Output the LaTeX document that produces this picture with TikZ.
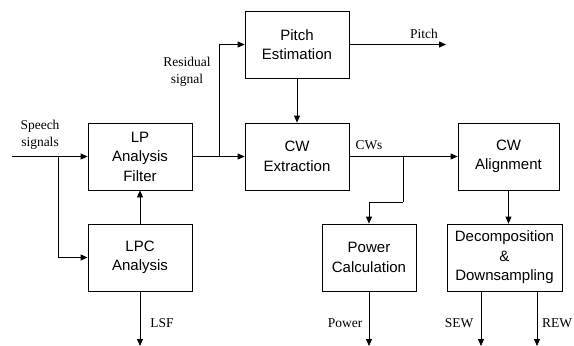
\documentclass[tikz,border=0pt]{standalone}
\usepackage{fontspec}
\setmainfont{Liberation Serif}
\newfontfamily\boxfont{Liberation Sans}
\usetikzlibrary{arrows.meta,positioning}

\tikzset{
  block/.style={draw, line width=0.8pt, minimum width=104pt, minimum height=67pt,
    align=center, inner sep=1pt, font=\boxfont\fontsize{15}{19.5}\selectfont},
  sig/.style={font=\fontsize{13.5}{17}\selectfont, align=center, inner sep=0pt},
  flow/.style={line width=0.8pt, -{Triangle[length=7pt,width=6pt]}},
  wire/.style={line width=0.8pt}
}

\begin{document}
\begin{tikzpicture}[x=1pt,y=-1pt]
  \useasboundingbox (0,0) rectangle (574,346);

  % Draw the blocks
  \node[block] (lpf) at (140,156.5) {LP\\Analysis\\Filter};
  \node[block] (lpc) at (140,257.5) {LPC\\Analysis};
  \node[block] (pitch) at (297,44.5) {Pitch\\Estimation};
  \node[block] (cwe) at (297,156.5) {CW\\Extraction};
  \node[block, minimum width=101pt] (cwa) at (508.5,156.5) {CW\\Alignment};
  \node[block, minimum width=94pt] (pwr) at (369,257.5) {Power\\Calculation};
  \node[block, minimum width=115pt] (dec) at (504.5,257.5) {Decomposition\\\&\\Downsampling};

  % Define the branch points and free ends
  \coordinate (in) at (12,156.5);
  \coordinate (sb) at (58,156.5);
  \coordinate (rb) at (219,156.5);
  \coordinate (pout) at (446,44.5);
  \coordinate (cb) at (403,156.5);
  \coordinate (ck) at (403,202);

  % Speech input and LPC loop
  \draw[flow] (in) -- (lpf.west);
  \draw[flow] (sb) |- (lpc.west);
  \draw[flow] (lpc) -- (lpf);

  % Residual signal
  \draw[flow] (lpf.east) -- (cwe.west);
  \draw[flow] (rb) |- (pitch.west);
  \draw[flow] (pitch.east) -- (pout);
  \draw[flow] (pitch) -- (cwe);

  % CWs
  \draw[flow] (cwe) -- (cwa);
  \draw[wire] (cb) -- (ck);
  \draw[flow] (ck) -| (pwr.north);
  \draw[flow] (cwa.south) -- (cwa.south |- dec.north);

  % Outputs at the bottom
  \foreach \src/\x/\name in {lpc/140/lsf, pwr/369/pow, dec/481/sew, dec/537/rew} {
    \coordinate (\name) at (\x,346);
    \draw[flow] (\src.south -| \name) -- (\name);
  }

  % Labels
  \node[sig] (lspeech) at (40,134.5) {Speech\\signals};
  \node[sig] (lres) at (187,71.5) {Residual\\signal};
  \node[sig] (lpitch) at (424,34) {Pitch};
  \node[sig] (lcws) at (369,145) {CWs};
  \node[sig] (llsf) at (162,323.5) {LSF};
  \node[sig] (lpow) at (345,323.5) {Power};
  \node[sig] (lsew) at (459,323.5) {SEW};
  \node[sig] (lrew) at (557,323.5) {REW};
\end{tikzpicture}
\end{document}
